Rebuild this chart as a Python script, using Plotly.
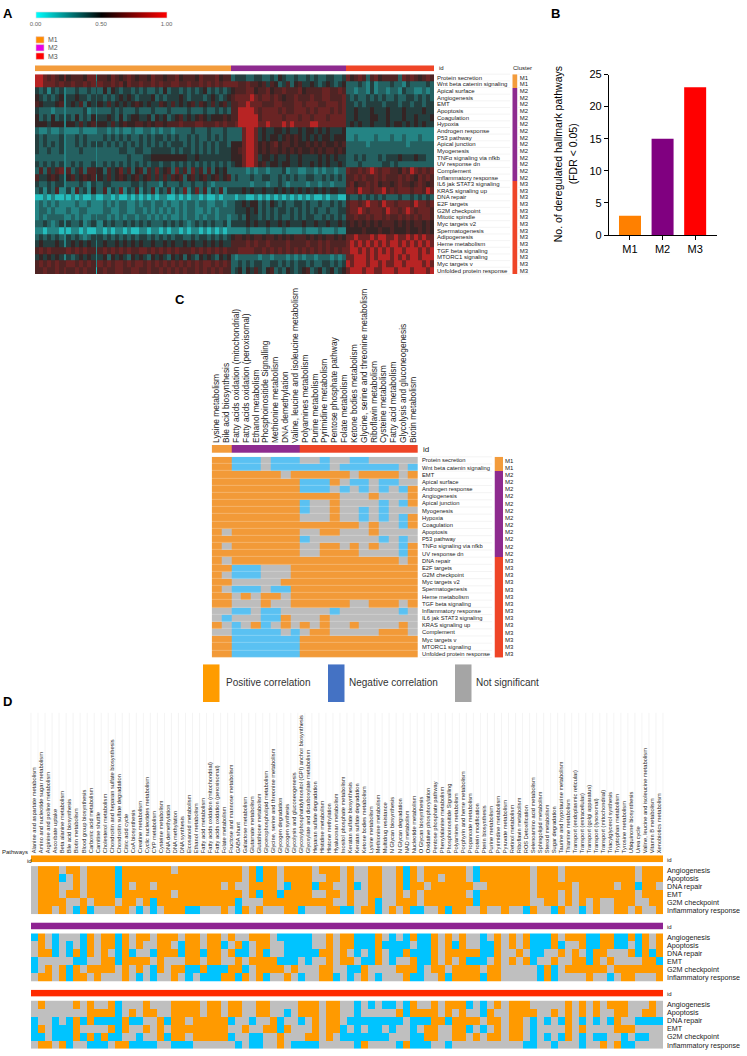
import plotly.graph_objects as go

W, H = 747, 1056
FONT = "Liberation Sans"

# ---------- Panel A ----------
A_ROWS = ["Protein secretion","Wnt beta catenin signaling","Apical surface","Angiogenesis","EMT","Apoptosis","Coagulation","Hypoxia","Androgen response","P53 pathway","Apical junction","Myogenesis","TNF\u03b1 signaling via nfkb","UV response dn","Complement","Inflammatory response","IL6 jak STAT3 signaling","KRAS signaling up","DNA repair","E2F targets","G2M checkpoint","Mitotic spindle","Myc targets v2","Spermatogenesis","Adipogenesis","Heme metabolism","TGF beta signaling","MTORC1 signaling","Myc targets v","Unfolded protein response"]
A_CLUSTERS = ["M1"]*2 + ["M2"]*14 + ["M3"]*14
A_GROUP_EDGES = [-0.5, 48.5, 77.5, 99.5]
A_NARROW_COLUMNS = [7, 15]
A_LEVELS = [0.0, 0.15, 0.28, 0.36, 0.44, 0.54, 0.60, 0.66, 0.84, 0.95]
A_VALUES = [
"88767657 56665772 66576567656 65766566756 66576667566 344 4334 43343543343 34343344334 75676367566 66376765676",
"88777676 67667673 76676757667 66767667766 76676767677 776 6766 56465346356 44543454345 33343242333 43324333343",
"43424342 33433434 35354344343 43343534434 34345343434 566 6775 66756676667 56666776676 33233242332 33243322323",
"54343452 44544343 43434545434 44534344454 34443454345 677 7787 67767656676 66766776667 43433434343 34334434343",
"65444562 45463543 54645454565 45446546454 56465464564 667 7877 76667766677 67776677767 44343444434 44344344344",
"43332332 33334232 33343433343 33433343333 43334334343 668 8887 67777676677 76767776767 44544454445 44454444544",
"53435342 43534352 44543534554 45354534564 54565455565 668 8888 67777767776 77677767777 44544455445 44454454445",
"55545552 55464563 55464565566 56566566676 66776667676 678 8888 77877787877 77887777777 45454454445 45545454544",
"32232232 22232222 33232322322 33232332333 34333433343 333 7887 45445545445 45545454445 22222222222 22222222222",
"43433342 33434333 34343434334 34344343433 43433434343 333 7887 45455456565 45454554555 22322223222 32232223222",
"43434342 33434342 43434343434 34343434443 43434343443 555 7887 56567566565 56565655656 33333233333 33332333333",
"43343342 33343332 33333443344 33444443434 43434343444 556 7887 56566565656 55656566565 33333333333 33333333333",
"33333332 33333332 33333334333 44555555555 44544444444 555 7887 45545445445 44445454544 33434333434 44544454433",
"43434342 34343342 34343434343 43443443434 34343434343 455 7887 56455455445 44545454454 33343333344 34333333333",
"36364672 63463664 53645746356 36474563746 37463635453 333 3232 33233342332 23323233233 76676787677 66576876767",
"64456542 56456562 54645654564 56464646563 56456456456 343 3343 34433434343 34433434343 66767667676 66767657676",
"43343442 33343243 34433333443 43332433343 34334323333 333 3323 33233432333 32332332333 67566767566 56766567656",
"34243622 42634253 36243724362 43624362437 24736243624 444 5454 45445454545 45454545544 77687767786 76777677687",
"11212112 12121121 12212112121 21212211212 12212112122 212 2112 12121212121 21211212211 43343434343 33433434343",
"23232322 22322322 23232332232 33233232232 33233223323 344 5455 34354343344 34334334343 67767877687 76777687767",
"23323222 32233222 23322332233 23232323232 33223232333 344 4545 34343443434 34343343344 67787677768 77678767776",
"23233332 23232232 33232323323 32323232232 33232332332 334 3544 34343433434 34433434343 66766767767 66767676776",
"33432342 43342343 24343343434 34333434343 23434343342 444 4545 44544545444 54454454454 56565656566 65656566565",
"22122212 12212112 21212212112 21221212212 12212121212 222 2322 22322232222 32223222322 55556555655 65556556565",
"34343432 43432343 43434343434 43434343443 34344343434 566 5656 65665656566 65656566565 77877787887 78778787877",
"45444542 45454542 45445454545 44544545445 45445454544 666 6767 66766667666 67667676666 78787878787 88787878787",
"67676666 76767662 67676767667 76767676766 67676767676 667 7776 67676767676 76767676767 78878787878 78878887878",
"45454542 43454542 45354543545 43545435453 54354543545 323 3333 23323332323 23323332323 77888787888 78787887888",
"67676766 77676762 76767767677 67676767676 76767767676 334 3434 43344343434 43433443434 87888788787 78878888787",
"66766767 66767661 67667766776 67667676767 66767676766 345 3546 43563435434 56345345345 78887887788 87888788878",
]

# ---------- Panel B ----------
B_CATEGORIES = ["M1", "M2", "M3"]
B_VALUES = [3, 15, 23]
B_COLORS = ["#ff8000", "#800080", "#ff0000"]

# ---------- Panel C ----------
C_COLUMNS = ["Lysine metabolism","Bile acid biosynthesis","Fatty acids oxidation (mitochondrial)","Fatty acids oxidation (peroxisomal)","Ethanol metabolism","Phosphoinositide Signalling","Methionine metabolism","DNA demethylation","Valine, leucine and isoleucine metabolism","Polyamines metabolism","Purine metabolism","Pyrimidine metabolism","Pentose phosphate pathway","Folate metabolism","Ketone bodies metabolism","Glycine, serine and threonine metabolism","Riboflavin metabolism","Cysteine metabolism","Fatty acid metabolism","Glycolysis and gluconeogenesis","Biotin metabolism"]
C_ROWS = ["Protein secretion","Wnt beta catenin signaling","EMT","Apical surface","Androgen response","Angiogenesis","Apical junction","Myogenesis","Hypoxia","Coagulation","Apoptosis","P53 pathway","TNF\u03b1 signaling via nfkb","UV response dn","DNA repair","E2F targets","G2M checkpoint","Myc targets v2","Spermatogenesis","Heme metabolism","TGF beta signaling","Inflammatory response","IL6 jak STAT3 signaling","KRAS signaling up","Complement","Myc targets v","MTORC1 signaling","Unfolded protein response"]
C_CLUSTERS = ["M1"]*2 + ["M2"]*12 + ["M3"]*14
C_COLUMN_EDGES = [-0.5, 1.5, 8.5, 20.5]
C_VALUES = [
"PPNNNGNNNGGNGGNNGGGGG","PPNNNGNNNNNNGNNNNNNGN","PPPPPPPGPPPPPPGPPPPGP","PPPPPPPPPNNNPGNNGNNGG",
"PPPPPPPPPNNNGNGNGNGNP","PPPPPPPPPPPPPGGGPGGGP","PPPPPPPPPNGGPGGGGNGNP","PPPPPPPPPNGGPGGNGNGGG",
"PPPPPPPPPGGGPGGNGNGNP","PPPPPPPPPPPPPPPGPGGNP","PGPPPPPPPGGPPGGGPGGGG","PPPPPPPPPNGGGGGGGNGNG",
"PGPPPPPPPGGPPGPGPGGNP","PPPPPPPPPGGPPPPGGGGNP","PGPPPPPPPPPPPPPPPPPGP","PPNNNGGGPPPPPPPPPPPPP",
"PGNNNGGGPPPPPPPPPPPPP","PPGGGGGPPPPPPPPPPPPPP","PGNNNGNNPPPPPPPPPPPPP","PPGPGPPGPPPPPPPPPPPPP",
"PPGGGPGGPPPPPPGGPPPGP","GGNNGNNGGGGGNGGGGGGNG","GNGGGNNPGGGPGGGGGGGGG","PGNGPNGPGPGPGGPGGGGPG",
"GGNNNNNGNGPPGGGGGPPPG","PPNNNNNNNPPPPPPPPPPPP","PPNNNNNNNPPPPPPPPPPPP","PPNNNNNNNPPPPPPPPPPPP",
]

# ---------- Panel D ----------
D_COLUMNS = ["Alanine and aspartate metabolism","Amino and nucleotide sugar metabolism","Arginine and proline metabolism","Ascorbate uptake","Beta alanine metabolism","Bile acid biosynthesis","Biotin metabolism","Blood group biosynthesis","Carbonic acid metabolism","Carnitine shuttle","Cholesterol metabolism","Chondroitin and heparan sulfate biosynthesis","Chondroitin sulfate degradation","Citric acid cycle","CoA biosynthesis","Creatine metabolism","Cyclic nucleotides metabolism","CYP metabolism","Cysteine metabolism","DNA demethylation","DNA methylation","DNA synthesis","Eicosanoid metabolism","Ethanol metabolism","Fatty acid metabolism","Fatty acids oxidation (mitochondrial)","Fatty acids oxidation (peroxisomal)","Folate metabolism","Fructose and mannose metabolism","GABA shunt","Galactose metabolism","Glutamate metabolism","Glutathione metabolism","Glycerophospholipid metabolism","Glycine, serine and threonine metabolism","Glycogen degradation","Glycogen synthesis","Glycolysis and gluconeogenesis","Glycosylphosphatidylinositol (GPI) anchor biosynthesis","Glyoxylate and dicarboxylate metabolism","Heparan sulfate degradation","Histidine metabolism","Histone methylation","Hyaluronan metabolism","Inositol phosphate metabolism","Keratan sulfate biosynthesis","Keratan sulfate degradation","Ketone bodies metabolism","Lysine metabolism","Methionine metabolism","Multidrug resistance","N Glycan biosynthesis","N Glycan degradation","NAD metabolism","Nucleotide metabolism","O Glycan biosynthesis","Oxidative phosphorylation","Pentose phosphate pathway","Phenylalanine metabolism","Phosphoinositide Signalling","Polyamines metabolism","Porphyrin and heme metabolism","Propanoate metabolism","Protein modification","Pterin biosynthesis","Purine metabolism","Pyrimidine metabolism","Pyruvate metabolism","Retinol metabolism","Riboflavin metabolism","ROS Detoxification","Selenoamino acid metabolism","Sphingolipid metabolism","Steroid metabolism","Sugar degradation","Taurine and hypotaurine metabolism","Thiamine metabolism","Transport (endoplasmic reticular)","Transport (extracellular)","Transport (golgi apparatus)","Transport (lysosomal)","Transport (mitochondrial)","Triacylglycerol synthesis","Tryptophan metabolism","Tyrosine metabolism","Ubiquinone biosynthesis","Urea cycle","Valine, leucine and isoleucine metabolism","Vitamin B metabolism","Xenobiotics metabolism"]
D_ROWS = ["Angiogenesis","Apoptosis","DNA repair","EMT","G2M checkpoint","Inflammatory response"]
D_M1 = [
"GPPPGPPGPP PPNPPPPPPP GPPPPPPPPP GPNPPGPPPP GPPPGPGGPP GGPNPGPPPP PPGNPPPPPP PGPPPGPPPP PPPPPPGPPP",
"GPPPNGPGPP PPNPPPPPPP PPPPPPPPPP GPNPPGPPPP GGPPGPGGPP GGPNPGPPGP PPGNPPPPPP PGPPPGPPPP PPPPPPGPPP",
"GPPPGGPGPP PPNPGPPGPP PPPPPPPGPG GPPPPGNPPP NPPGGPNGPP GGPNPPGPPP PPPGGPPPPP PGPPPPPGPP PPPGPPNPPG",
"GPPPGPPGPP PPNPPPPPPP GPPPPPPPPP GPNPPNPPPP GGPPGPGGPP GGPGPGPPPP PPGNPPPPPP PGPPPGPGPP PPPPPPGPPP",
"GPPPPGGPGP PPGPPGPNPP PPPPPPPPPN GGGPPPPPPP PPPGGPGGPN GGPPPGPPPP PPPNPPPPPP PGGPPGPGPG PGGPPPGGPP",
"GPPGPGNPNG GGPPGNGNGP PPNNGGGPGN PGPGGGPPNG GGPPNNGPPN GPGPNNGGPN PPGGPGGPGG NPGGNPGGNG PGGPPGPGGP",
]
D_M2 = [
"NPGNGGGNPG PPNPGPPGPP PGPPGPPGPG GPPPGNNNNN GGPGPPNNNP GNGNPNNPGP GPGGNGPGPG PNNNPGPPPN NPPNNPNPGP",
"GPGNGNGNPG PPNPGPGGPP GNPPGPPNGP NGPPGGNNNN GGPGPPNNNP NNNNGNNPGP NPGGNNPGPG PNNNPNGGPN NPPNNGNPGP",
"GPPNGNPNPG PGNPNGGNPP PNPPNPPGPN NGPNGGNNNN NPPGPGNGNP GNNPNNNPGP PPPPNNPGGP GNNGGPGPGN PPGGGPNPNP",
"NGGGGGNNGG PPNPPPPGPG GGPPGPPGGP GPPPPNNNGN GGPGPPGNNP GNGGPNNPGP GPNNNGPGPG PNGGPGGPPN PGPGGGGPPN",
"NGPGPNPGPP PPGPGPGNPG PPNNPNNNPP NGPPPPGPGG GPPGGNNPGG GGPPPNGPPG PPPPGPPGGG GGNPNGPPPP PPGPPPPPPP",
"GPPGPNPPGP GGGPGNGNGG PGNGNNNPPN PGPNGGPGNG GPPNGNGPGN GGGPNNGGPN PPPPNPPGGG GGNPNGGGGP GGNGPPGGGP",
]
D_M3 = [
"GPGGGGPGPG GPNGGGPGGG PPPPGPPGPP GGPPGGGGPP PGPPGGNGNG NNGNPGGPGP PPNGNGPGPP PGGGGGPGPG PGPPPGGGPG",
"GGGGGGGGPP PPNGPGPPGG PPPPGPPGPP GGPPGGNGPP PGPPGGNGGG GGPNPPPPGP GPGGNPGGPP PPGGPGPGPG PGGPPGGPPG",
"NGGNGNPNPN NNNPNNGGPN PPGPPPPPNG GNGGPNGGNG PGPPGNNNNN NNNGNNNPPN PPPPGPPGPP GNGNGNPGNG NGNPGGNNNN",
"NPGNNNPGGG GPNPGGPGPG PPPPPPPPGG PGGPPNPGGG PGPPNGNGNN GNGGNGPPGG PPNGNGPGPP GNGGGGPGPG GGGPPPGGGG",
"NNGNNNPNPN PNNGGNGGPN PPGPPPPPNG GNNGGPGGGP PGPGNNNNNN NGGGNNPPGG PPGPGPPGPP GNGNGNPGNG NNGGNGNNGG",
"GPPGPNGGNN NGPPNNNNGG NNNGGGGGGN GNNGGPGNNN NGGGGGNPGG GGNPNNNGGN GGGGGGGGGG NNGGNGGGNG GPGPNNGGGG",
]

# ---------- Colours ----------
ORANGE_C, BLUE_C, GRAY_C = "#f29a38", "#5ac1f2", "#bdbdbd"
ORANGE_D, BLUE_D, GRAY_D = "#ff9a00", "#00c4ff", "#bfbfbf"
BAR_M1, BAR_M2, BAR_M3 = "#f39c3c", "#8e2b8f", "#ef4527"
HEAT_SCALE = [[0, "#00ffff"], [0.5, "#000000"], [1, "#ff0000"]]
CODE = {"G": 0, "N": 1, "P": 2}


def discrete(colors):
    n = len(colors)
    out = []
    for i, c in enumerate(colors):
        out += [[i / n, c], [(i + 1) / n, c]]
    return out


def dx(a, b):
    return [a / W, b / W]


def dy(a, b):
    return [1 - b / H, 1 - a / H]


fig = go.Figure()
layout = {}
axis_no = [0]
annotations = []
shapes = []


def new_axes(x0, x1, y0, y1, xrange, yrange, xopts=None, yopts=None):
    axis_no[0] += 1
    k = axis_no[0]
    sx = "" if k == 1 else str(k)
    xa = dict(domain=dx(x0, x1), range=xrange, anchor="y" + sx, visible=True, showgrid=False,
              zeroline=False, showticklabels=False, ticks="", showline=False, fixedrange=True)
    ya = dict(domain=dy(y0, y1), range=yrange, anchor="x" + sx, visible=True, showgrid=False,
              zeroline=False, showticklabels=False, ticks="", showline=False, fixedrange=True)
    xa.update(xopts or {})
    ya.update(yopts or {})
    layout["xaxis" + sx] = xa
    layout["yaxis" + sx] = ya
    return "x" + sx, "y" + sx


def text(x, y, s, size=6, color="#222", anchor="left", bold=False, angle=0, vanchor="middle"):
    annotations.append(dict(x=x / W, y=1 - y / H, xref="paper", yref="paper", text=("<b>%s</b>" % s) if bold else s,
                            showarrow=False, xanchor=anchor, yanchor=vanchor, textangle=angle,
                            font=dict(family=FONT, size=size, color=color), borderpad=0))


def rect(x0, y0, x1, y1, fill, line="rgba(0,0,0,0)", lw=0):
    shapes.append(dict(type="rect", xref="paper", yref="paper", x0=x0 / W, x1=x1 / W, y0=1 - y0 / H, y1=1 - y1 / H,
                       fillcolor=fill, line=dict(color=line, width=lw), layer="above"))


def hline(x0, x1, y, color="#ececec", lw=0.6):
    shapes.append(dict(type="line", xref="paper", yref="paper", x0=x0 / W, x1=x1 / W, y0=1 - y / H, y1=1 - y / H,
                       line=dict(color=color, width=lw), layer="below"))


def vline(x, y0, y1, color="#ececec", lw=0.6):
    shapes.append(dict(type="line", xref="paper", yref="paper", x0=x / W, x1=x / W, y0=1 - y0 / H, y1=1 - y1 / H,
                       line=dict(color=color, width=lw), layer="below"))


def band(xa, ya, x_edges, colors):
    fig.add_trace(go.Heatmap(x=x_edges, y=[0], z=[list(range(len(colors)))], xaxis=xa, yaxis=ya, zmin=0,
                             zmax=len(colors) - 1 if len(colors) > 1 else 1, colorscale=discrete(colors),
                             showscale=False, hoverinfo="skip"))


def categorical(xa, ya, rows, colors, xgap=0, ygap=0):
    z = [[CODE[c] for c in r.replace(" ", "")] for r in rows]
    fig.add_trace(go.Heatmap(z=z, xaxis=xa, yaxis=ya, zmin=0, zmax=2, colorscale=discrete(colors),
                             showscale=False, hoverinfo="skip", xgap=xgap, ygap=ygap))


# ---------- A ----------
A_X0, A_X1, A_Y0, A_Y1 = 35, 434, 69, 271
z_a = [[A_LEVELS[int(c)] for c in r.replace(" ", "")] for r in A_VALUES]
nr = len(A_ROWS)
# the thin cyan stripes of the reference are single narrow samples
widths = [1.0] * len(z_a[0])
for n in A_NARROW_COLUMNS:
    widths[n] = 0.3
    widths[n - 1] = 1.35
    widths[n + 1] = 1.35
x_edges = [-0.5]
for w in widths:
    x_edges.append(x_edges[-1] + w)
xa, ya = new_axes(A_X0, A_X1, A_Y0, A_Y1, [-0.5, 99.5], [nr - 0.5, -0.5], None,
                  dict(side="right", showticklabels=True, tickmode="array", tickvals=list(range(nr)), ticktext=A_ROWS,
                       tickfont=dict(family=FONT, size=6, color="#222"), ticklabelstandoff=2))
fig.add_trace(go.Heatmap(z=z_a, x=x_edges, xaxis=xa, yaxis=ya, zmin=0, zmax=1, colorscale=HEAT_SCALE, opacity=0.86, hoverinfo="skip",
                         colorbar=dict(orientation="h", x=35.5 / W, xanchor="left", y=1 - 6 / H, yanchor="top",
                                       len=130.5 / W, lenmode="fraction", thickness=6, thicknessmode="pixels",
                                       tickmode="array", tickvals=[0, 0.5, 1], ticktext=["0.00", "0.50", "1.00"],
                                       tickfont=dict(family=FONT, size=6, color="#666"), ticks="", outlinecolor="#ddd",
                                       outlinewidth=0.6, xpad=0, ypad=0, ticklabelposition="outside")))
xa, ya = new_axes(A_X0, A_X1, 60, 66, [-0.5, 99.5], [-0.5, 0.5])
band(xa, ya, A_GROUP_EDGES, [BAR_M1, BAR_M2, BAR_M3])
xa, ya = new_axes(512.3, 517.7, A_Y0, A_Y1, [-0.5, 0.5], [nr - 0.5, -0.5], None,
                  dict(side="right", showticklabels=True, tickmode="array", tickvals=list(range(nr)), ticktext=A_CLUSTERS,
                       tickfont=dict(family=FONT, size=6, color="#222"), ticklabelstandoff=1))
fig.add_trace(go.Heatmap(z=[[int(c[1]) - 1] for c in A_CLUSTERS], xaxis=xa, yaxis=ya, zmin=0, zmax=2,
                         colorscale=discrete([BAR_M1, BAR_M2, BAR_M3]), showscale=False, hoverinfo="skip"))
for i in range(nr + 1):
    hline(436, 510, A_Y0 + (A_Y1 - A_Y0) * i / nr)
    hline(518, 530, A_Y0 + (A_Y1 - A_Y0) * i / nr)
text(438, 63, "id", 6)
text(512, 63, "Cluster", 6)
text(2, 7.5, "A", 13, "#000", bold=True)
for y0, y1, col, name in [(31, 37.5, "#ff8c00", "M1"), (39, 45.5, "#e600e6", "M2"), (47.5, 54, "#ff0000", "M3")]:
    rect(36, y0, 44, y1, col, "#e8c8c8", 0.6)
    text(47, (y0 + y1) / 2, name, 7, "#555")

# ---------- B ----------
xa, ya = new_axes(609, 717, 69.3, 231.7, [-0.644, 2.67], [0, 25],
                  dict(showline=True, linecolor="#000", linewidth=1.3, ticks="outside", ticklen=4, tickwidth=1.3, tickcolor="#000",
                       showticklabels=True, tickmode="array", tickvals=[0, 1, 2], ticktext=B_CATEGORIES,
                       tickfont=dict(family=FONT, size=11, color="#000")),
                  dict(showline=True, linecolor="#000", linewidth=1.3, ticks="outside", ticklen=4, tickwidth=1.3, tickcolor="#000",
                       showticklabels=True, tickmode="array", tickvals=[0, 5, 10, 15, 20, 25],
                       tickfont=dict(family=FONT, size=11, color="#000")))
fig.add_trace(go.Bar(x=[0, 1, 2], y=B_VALUES, marker=dict(color=B_COLORS, line=dict(width=0)), width=0.675, xaxis=xa, yaxis=ya,
                     hoverinfo="skip", showlegend=False))
text(558, 150, "No. of deregulated hallmark pathways", 10.5, "#000", "center", angle=-90)
text(573, 150, "(FDR &lt; 0.05)", 10.5, "#000", "center", angle=-90)
text(550, 7.5, "B", 13, "#000", bold=True)

# ---------- C ----------
C_X0, C_X1, C_Y0, C_Y1 = 211.7, 418, 456, 659
nc, nrc = len(C_COLUMNS), len(C_ROWS)
xa, ya = new_axes(C_X0, C_X1, 444, 452, [-0.5, nc - 0.5], [-0.5, 0.5],
                  dict(side="top", showticklabels=True, tickmode="array", tickvals=list(range(nc)), ticktext=C_COLUMNS, tickangle=-90,
                       tickfont=dict(family=FONT, size=8.4, color="#222"), ticklabelstandoff=1))
band(xa, ya, C_COLUMN_EDGES, [BAR_M1, BAR_M2, BAR_M3])
xa, ya = new_axes(C_X0, C_X1, C_Y0, C_Y1, [-0.5, nc - 0.5], [nrc - 0.5, -0.5], None,
                  dict(side="right", showticklabels=True, tickmode="array", tickvals=list(range(nrc)), ticktext=C_ROWS,
                       tickfont=dict(family=FONT, size=5.8, color="#222"), ticklabelstandoff=3))
categorical(xa, ya, C_VALUES, [GRAY_C, BLUE_C, ORANGE_C], ygap=0.25)
xa, ya = new_axes(494.5, 503, C_Y0, C_Y1, [-0.5, 0.5], [nrc - 0.5, -0.5], None,
                  dict(side="right", showticklabels=True, tickmode="array", tickvals=list(range(nrc)), ticktext=C_CLUSTERS,
                       tickfont=dict(family=FONT, size=6, color="#222"), ticklabelstandoff=1))
fig.add_trace(go.Heatmap(z=[[int(c[1]) - 1] for c in C_CLUSTERS], xaxis=xa, yaxis=ya, zmin=0, zmax=2,
                         colorscale=discrete([BAR_M1, BAR_M2, BAR_M3]), showscale=False, hoverinfo="skip"))
for i in range(nrc + 1):
    hline(420, 492, C_Y0 + (C_Y1 - C_Y0) * i / nrc)
text(422, 449, "id", 8)
text(174, 297, "C", 13, "#000", bold=True)
for x0, col, lab, tx in [(203, "#ff9c00", "Positive correlation", 224.5), (328, "#4472c4", "Negative correlation", 347.5),
                         (455, "#a5a5a5", "Not significant", 475)]:
    rect(x0, 666, x0 + 16.5, 704, col)
    text(tx, 684, lab, 10, "#333")

# ---------- D ----------
D_X0, D_X1 = 31, 663
nd = len(D_COLUMNS)
for i in range(nd + 1):
    vline(D_X0 + (D_X1 - D_X0) * i / nd, 715, 856)
blocks = [(859, 866, 870, 919, D_M1, "#ff9800"), (927, 934, 938, 987, D_M2, "#8e2391"), (995, 1002, 1006, 1055, D_M3, "#ff2a00")]
for idx, (b0, b1, h0, h1, rows, col) in enumerate(blocks):
    opts = None
    if idx == 0:
        opts = dict(side="top", showticklabels=True, tickmode="array", tickvals=list(range(nd)), ticktext=D_COLUMNS, tickangle=-90,
                    tickfont=dict(family=FONT, size=5.7, color="#222"), ticklabelstandoff=1)
    xa, ya = new_axes(D_X0, D_X1, b0, b1, [-0.5, nd - 0.5], [-0.5, 0.5], opts)
    band(xa, ya, [-0.5, nd - 0.5], [col])
    xa, ya = new_axes(D_X0, D_X1, h0, h1, [-0.5, nd - 0.5], [5.5, -0.5], None,
                      dict(side="right", showticklabels=True, tickmode="array", tickvals=list(range(6)), ticktext=D_ROWS,
                           tickfont=dict(family=FONT, size=7.2, color="#222"), ticklabelstandoff=3))
    categorical(xa, ya, rows, [GRAY_D, BLUE_D, ORANGE_D])
    text(666, (b0 + b1) / 2 + 1, "id", 6)
text(1, 856, "Pathways", 6, "#222")
text(26, 864.5, "id", 6, "#222")
text(2, 703, "D", 13, "#000", bold=True)

fig.update_layout(width=W, height=H, margin=dict(l=0, r=0, t=0, b=0, pad=0), paper_bgcolor="#fff", plot_bgcolor="rgba(0,0,0,0)",
                  showlegend=False, annotations=annotations, shapes=shapes, font=dict(family=FONT), **layout)
fig.write_html("out.html", post_script="document.body.style.margin='0';document.body.style.overflow='hidden';",
               config=dict(displayModeBar=False))
